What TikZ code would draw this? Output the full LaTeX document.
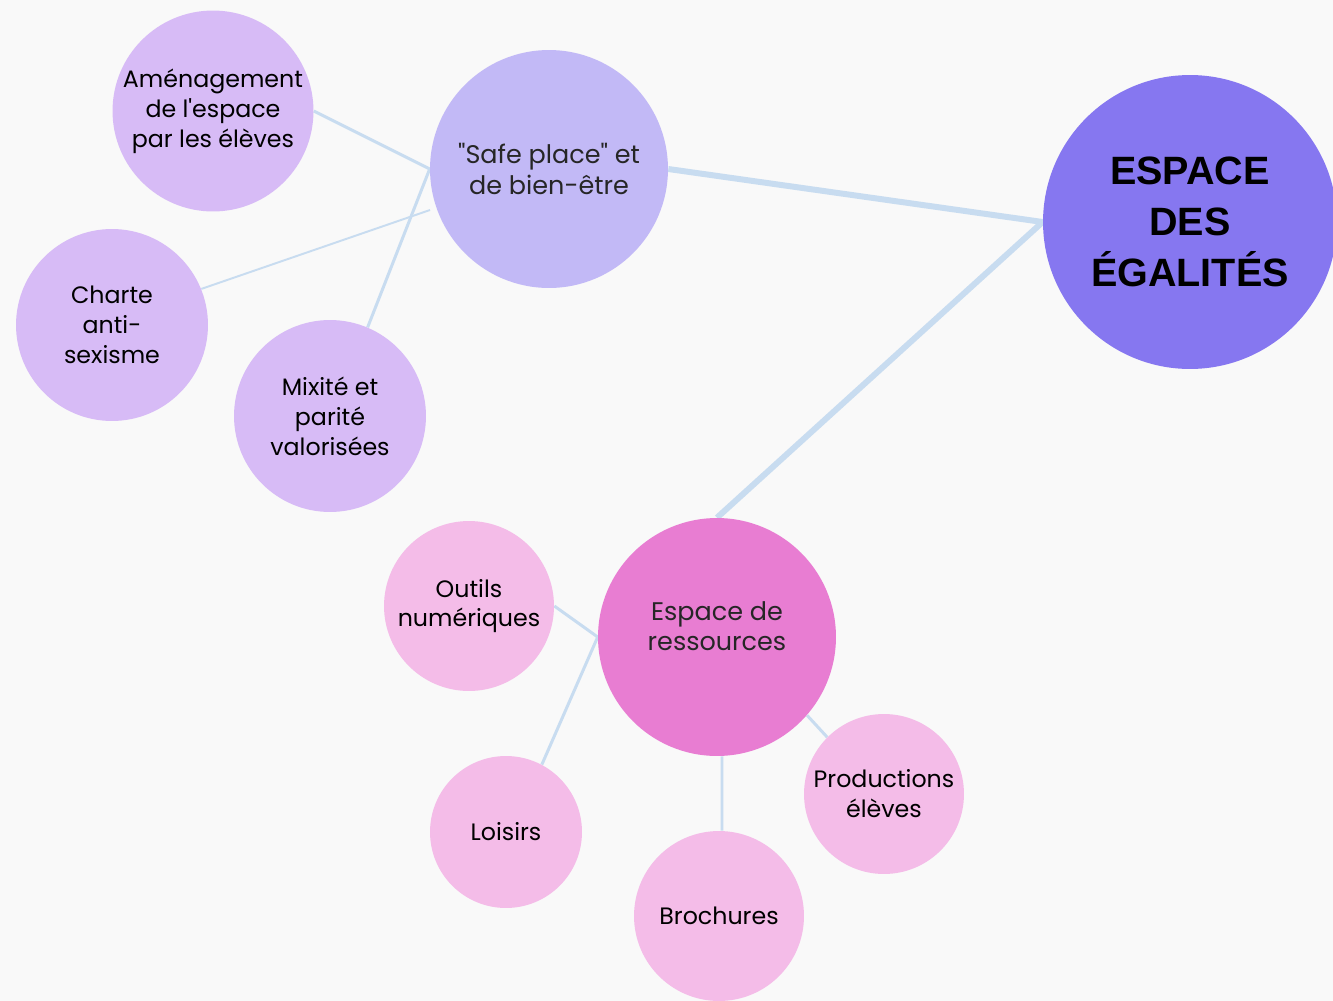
\documentclass[tikz,border=0pt]{standalone}
\usepackage{fontspec}
\setmainfont{Poppins}[Ligatures=TeXOff]
\newfontfamily\titlefont{Liberation Sans}
\usetikzlibrary{backgrounds}

\definecolor{bgcol}{HTML}{F9F9F9}
\definecolor{mainpurple}{HTML}{8677F0}
\definecolor{midpurple}{HTML}{C2B9F6}
\definecolor{leafpurple}{HTML}{D7BBF6}
\definecolor{midpink}{HTML}{E87DD2}
\definecolor{leafpink}{HTML}{F4BCE8}
\definecolor{linkblue}{HTML}{C8DCF0}
\definecolor{softblack}{HTML}{262626}

\begin{document}
\begin{tikzpicture}[x=0.02cm, y=-0.02cm,
    bubble/.style={circle, inner sep=0pt, align=center, font=\fontsize{13.5}{17}\selectfont},
    hub/.style={bubble, text=softblack, font=\fontsize{14.5}{17.5}\selectfont},
    purpleleaf/.style={bubble, fill=leafpurple},
    pinkleaf/.style={bubble, fill=leafpink},
    link/.style={draw=linkblue, line width=1.7pt},
    mainlink/.style={draw=linkblue, line width=3.4pt}]
    \useasboundingbox (0,0) rectangle (1333,1001);

    % central topic
    \node[bubble, fill=mainpurple, minimum size=5.88cm,
          font=\titlefont\bfseries\fontsize{22.5}{29}\selectfont] (egal) at (1190,222)
          {ESPACE\\DES\\ÉGALITÉS};

    % first branch
    \node[hub, fill=midpurple, minimum size=4.76cm] (safe) at (549,169)
          {"Safe place" et\\de bien-être};
    \node[purpleleaf, minimum size=4.02cm] (amen) at (213,111)
          {Aménagement\\de l'espace\\par les élèves};
    \node[purpleleaf, minimum size=3.84cm] (charte) at (112,325)
          {Charte\\anti-\\sexisme};
    \node[purpleleaf, minimum size=3.84cm] (mixite) at (330,416)
          {Mixité et\\parité\\valorisées};

    % second branch
    \node[hub, fill=midpink, minimum size=4.76cm] (ress) at (717,637)
          {Espace de\\ressources\\[-5pt]\mbox{}};
    \node[pinkleaf, minimum size=3.4cm] (outils) at (469,606)
          {Outils\\numériques};
    \node[pinkleaf, minimum size=3.04cm] (loisirs) at (506,832)
          {Loisirs};
    \node[pinkleaf, minimum size=3.4cm] (broch) at (719,916)
          {Brochures};
    \node[pinkleaf, minimum size=3.2cm] (prod) at (884,794)
          {Productions\\élèves};

    \coordinate (safelow) at (430,210);

    \begin{scope}[on background layer]
        \fill[bgcol] (0,0) rectangle (1333,1001);
        % links
        \draw[mainlink] (safe.east) -- (egal.west);
        \draw[mainlink] (egal.west) -- (ress.north);
        \draw[link] (safe.west) -- (amen.east);
        \draw[link, line width=1.1pt] (safelow) -- (charte.22);
        \draw[link] (safe.west) -- (mixite.67);
        \draw[link] (ress.west) -- (outils.east);
        \draw[link] (ress.west) -- (loisirs.62);
        \draw[link] ([xshift=0.1cm]ress.south) -- ([xshift=0.06cm]broch.north);
        \draw[link] (ress.-41.6) -- (prod.135);
    \end{scope}
\end{tikzpicture}
\end{document}
